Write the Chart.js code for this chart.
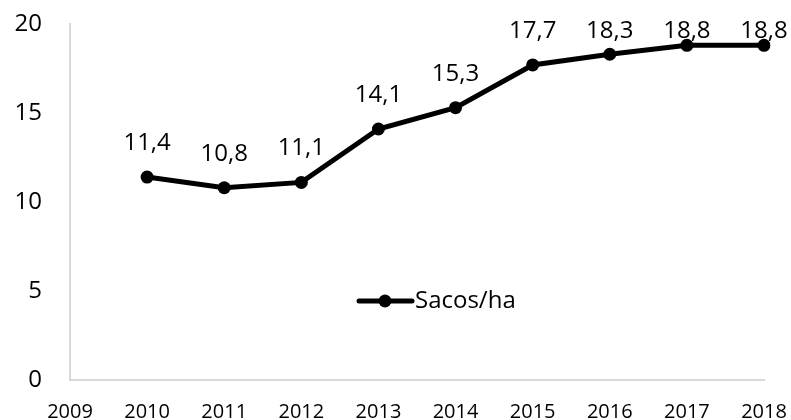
<!DOCTYPE html>
<html lang="pt-BR">
<head>
<meta charset="utf-8"/>
<title>Sacos/ha</title>
<style>
  body { margin: 0; padding: 0; background: #fff; }
  #wrap { width: 791px; height: 420px; }
</style>
</head>
<body>
<div id="wrap"><canvas id="chart" width="791" height="420"></canvas></div>
<script src="https://cdn.jsdelivr.net/npm/chart.js"></script>
<script>
const years = ["2009", "2010", "2011", "2012", "2013", "2014", "2015", "2016", "2017", "2018"];
const sacosHa = [null, 11.4, 10.8, 11.1, 14.1, 15.3, 17.7, 18.3, 18.8, 18.8];
const yTicks = [0, 5, 10, 15, 20];
const seriesName = "Sacos/ha";

const FONT = "'Open Sans', 'Noto Sans', sans-serif";
const axisColor = "#d9d9d9";

// value labels above points, comma decimal
const valueLabels = {
  id: "valueLabels",
  afterDatasetsDraw(chart) {
    const ctx = chart.ctx;
    const meta = chart.getDatasetMeta(0);
    ctx.save();
    ctx.font = "24px " + FONT;
    ctx.fillStyle = "#000";
    ctx.textAlign = "center";
    ctx.textBaseline = "middle";
    meta.data.forEach((pt, i) => {
      const v = sacosHa[i];
      if (v == null) return;
      const y = Math.max(pt.y - 34, 31);
      ctx.fillText(v.toFixed(1).replace(".", ","), pt.x, y);
    });
    ctx.restore();
  }
};

// legend sits inside the plot, like the original
const innerLegend = {
  id: "innerLegend",
  afterDraw(chart) {
    const ctx = chart.ctx;
    const y = 301;
    ctx.save();
    ctx.strokeStyle = "#000";
    ctx.lineWidth = 5;
    ctx.lineCap = "round";
    ctx.beginPath();
    ctx.moveTo(359, y);
    ctx.lineTo(412, y);
    ctx.stroke();
    ctx.fillStyle = "#000";
    ctx.beginPath();
    ctx.arc(385, y, 6.5, 0, Math.PI * 2);
    ctx.fill();
    ctx.font = "24px " + FONT;
    ctx.textAlign = "left";
    ctx.textBaseline = "middle";
    ctx.fillText(seriesName, 415, y);
    ctx.restore();
  }
};

new Chart(document.getElementById("chart"), {
  type: "line",
  data: {
    labels: years,
    datasets: [{
      label: seriesName,
      data: sacosHa,
      borderColor: "#000",
      backgroundColor: "#000",
      borderWidth: 5,
      pointRadius: 6.5,
      pointHoverRadius: 6.5,
      pointBackgroundColor: "#000",
      pointBorderWidth: 0,
      tension: 0,
      spanGaps: false
    }]
  },
  options: {
    responsive: false,
    animation: false,
    events: [],
    layout: { padding: { top: 24, right: 27, left: 0, bottom: 0 } },
    plugins: {
      legend: { display: false },
      tooltip: { enabled: false }
    },
    scales: {
      x: {
        type: "category",
        offset: false,
        grid: { display: true, drawOnChartArea: false, drawTicks: false },
        border: { display: true, color: axisColor, width: 2 },
        ticks: {
          color: "#000",
          font: { family: FONT, size: 20 },
          padding: 20,
          maxRotation: 0,
          autoSkip: false
        },
        afterFit(scale) {
          scale.height = 40;
          scale.paddingLeft = 0;
          scale.paddingRight = 0;
        }
      },
      y: {
        min: 0,
        max: 20,
        afterBuildTicks(scale) { scale.ticks = yTicks.map(v => ({ value: v })); },
        grid: { display: true, drawOnChartArea: false, drawTicks: false },
        border: { display: true, color: axisColor, width: 2 },
        ticks: {
          color: "#000",
          font: { family: FONT, size: 24 },
          padding: 28
        },
        afterFit(scale) {
          scale.width = 70;
          scale.paddingTop = 0;
          scale.paddingBottom = 0;
        }
      }
    }
  },
  plugins: [valueLabels, innerLegend]
});
</script>
</body>
</html>
